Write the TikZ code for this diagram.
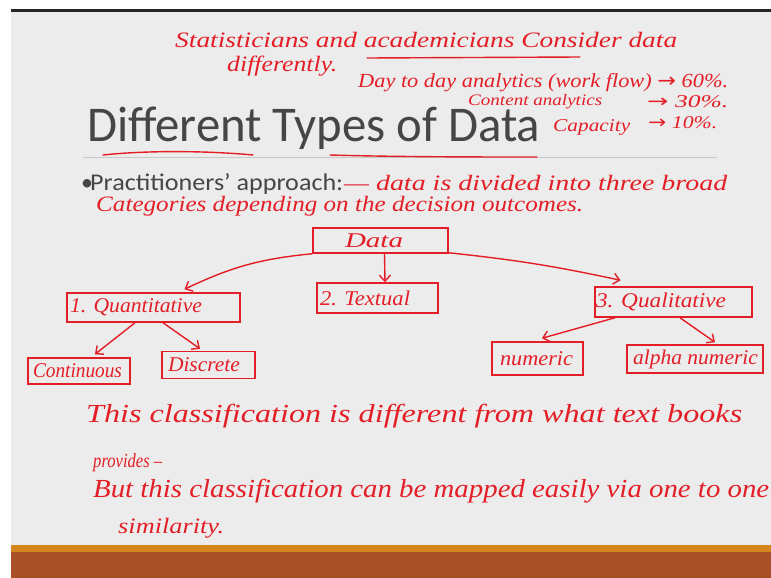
\documentclass[tikz,border=0pt]{standalone}
\usepackage{fontspec}
\usepackage{graphicx}
\setmainfont{Carlito}
\newfontfamily\handfont{Liberation Serif}
\newfontfamily\symfont{DejaVu Sans}
\usetikzlibrary{arrows.meta}
\definecolor{pen}{RGB}{228,30,38}
\definecolor{slidebg}{RGB}{236,236,236}
\definecolor{slidetext}{RGB}{70,70,70}
\definecolor{ruleg}{RGB}{200,200,200}
\definecolor{barorange}{RGB}{214,132,28}
\definecolor{barbrown}{RGB}{168,80,40}
\newcommand\fitw[2]{\resizebox{#1pt}{\height}{#2}}
\newcommand\rarr{{\symfont\char"2192}}
\newcommand\boxtxt[4]{\makebox[#1pt][l]{\hspace*{#2pt}\fitw{#3}{#4}}}
\begin{document}
\begin{tikzpicture}[x=1pt,y=-1pt,
  hand/.style={text=pen, font=\handfont\itshape\fontsize{22}{24}\selectfont, inner sep=0pt, anchor=base west},
  smallhand/.style={hand, font=\handfont\itshape\fontsize{18}{20}\selectfont},
  bighand/.style={hand, font=\handfont\itshape\fontsize{26}{28}\selectfont},
  slide/.style={text=slidetext, inner sep=0pt, anchor=base west},
  box/.style={draw=pen, line width=1.5pt, inner xsep=0pt, inner ysep=0pt, text=pen, font=\handfont\itshape\fontsize{21}{22}\selectfont},
  penline/.style={draw=pen, line width=1.4pt, line cap=round},
  arr/.style={penline, -{Straight Barb[length=6pt,width=11pt]}},
]
\useasboundingbox (0,0) rectangle (771,578);
\fill[white] (0,0) rectangle (771,578);
\fill[slidebg] (11,11) rectangle (771,545);
\fill[black!85] (11,9.5) rectangle (771,12);
\fill[barorange] (11,545) rectangle (771,552);
\fill[barbrown] (11,552) rectangle (771,578);

% printed slide text
\node[slide, font=\fontsize{50}{50}\selectfont] (title) at (87,141) {\fitw{453}{Different Types of Data}};
\draw[ruleg, line width=0.8pt] (83,157.5) -- (717,157.5);
\node[slide, font=\fontsize{24}{24}\selectfont] (dot) at (81,190) {•};
\node[slide, font=\fontsize{24}{24}\selectfont] (bullet) at (90,190) {\fitw{253}{Practitioners’ approach:}};

% handwritten notes at top
\node[hand] (n1) at (175,48) {\fitw{502}{Statisticians and academicians Consider data}};
\node[hand] (n2) at (227,72) {\fitw{110}{differently.}};
\coordinate (ul1) at (367,58);
\coordinate (ul2) at (580,57);
\draw[penline] (ul1) -- (ul2);
\node[hand, font=\handfont\itshape\fontsize{20}{22}\selectfont] (n3) at (358,88) {\fitw{370}{Day to day analytics (work flow) \rarr\ 60\%.}};
\node[hand, font=\handfont\itshape\fontsize{16}{18}\selectfont] (n4) at (468,106) {\fitw{134}{Content analytics}};
\node[smallhand] (n4b) at (647,107) {\fitw{81}{\rarr\ 30\%.}};
\node[smallhand] (n5) at (553,131) {\fitw{77}{Capacity}};
\node[smallhand] (n5b) at (648,128) {\fitw{69}{\rarr\ 10\%.}};

% underlines of the title
\coordinate (u1a) at (103,155);
\coordinate (u1b) at (253,155);
\coordinate (u2a) at (330,155);
\coordinate (u2b) at (537,157);
\draw[penline] (u1a) .. controls (150,150) and (210,151) .. (u1b);
\draw[penline] (u2a) .. controls (400,157) and (480,157) .. (u2b);

\node[hand] (n6) at (344,190) {\fitw{383}{— data is divided into three broad}};
\node[hand] (n7) at (96,211) {\fitw{487}{Categories depending on the decision outcomes.}};

% diagram
\node[box, minimum height=25pt] (data) at (380.5,240.5) {\boxtxt{135}{32}{58}{Data}};
\node[box, minimum height=29pt] (quant) at (153.5,307.5) {\boxtxt{173}{3}{132}{1. Quantitative}};
\node[box, minimum height=30pt] (textual) at (377.5,298) {\boxtxt{121}{3}{90}{2. Textual}};
\node[box, minimum height=30pt] (qual) at (673.5,302) {\boxtxt{157}{1}{130}{3. Qualitative}};
\node[box, minimum height=26pt] (cont) at (79,371) {\boxtxt{102}{5}{89}{Continuous}};
\node[box, minimum height=27pt] (disc) at (208.5,365) {\boxtxt{93}{6}{72}{Discrete}};
\node[box, minimum height=33pt] (num) at (537.5,358.5) {\boxtxt{91}{8}{73}{numeric}};
\node[box, minimum height=28pt] (alpha) at (695,359) {\boxtxt{136}{6}{125}{alpha numeric}};

\draw[arr] (data.south west) to[bend right=10] ([xshift=31pt,yshift=3pt]quant.north);
\draw[arr] ([xshift=4pt]data.south) -- ([xshift=7.5pt]textual.north);
\draw[arr] ([yshift=1pt]data.south east) to[bend left=3] ([xshift=-53pt,yshift=6pt]qual.north);
\draw[arr] ([xshift=-18.5pt]quant.south) -- ([xshift=16pt,yshift=3pt]cont.north);
\draw[arr] ([xshift=9.5pt]quant.south) -- ([xshift=-8.5pt,yshift=2pt]disc.north);
\draw[arr] ([xshift=-58.5pt]qual.south) -- ([xshift=4.5pt,yshift=3pt]num.north);
\draw[arr] ([xshift=6.5pt]qual.south) -- ([xshift=20pt,yshift=2pt]alpha.north);

% handwritten notes at bottom
\node[bighand] (b1) at (86,422) {\fitw{656}{This classification is different from what text books}};
\node[hand, font=\handfont\itshape\fontsize{20}{22}\selectfont] (b2) at (93,467) {\fitw{69}{provides –}};
\node[bighand] (b3) at (93,497) {\fitw{676}{But this classification can be mapped easily via one to one}};
\node[hand] (b4) at (118,533) {\fitw{106}{similarity.}};
\end{tikzpicture}
\end{document}
